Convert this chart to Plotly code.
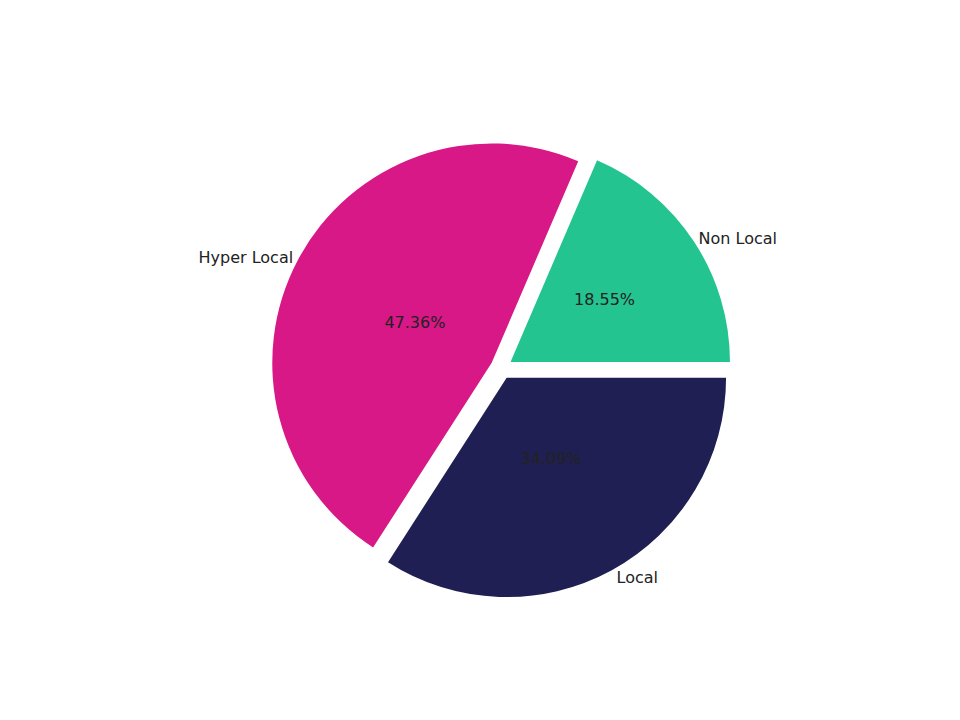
import plotly.graph_objects as go

labels = ["Local", "Hyper Local", "Non Local"]
values = [34.09, 47.36, 18.55]
colors = ["#1f1f53", "#d81887", "#24c491"]

pull = [0.05, 0.05, 0.05]
fig = go.Figure()
fig.add_trace(go.Pie(
    labels=labels, values=values, sort=False, direction="clockwise", rotation=90,
    marker=dict(colors=colors), pull=pull, textinfo="label", textposition="outside",
    textfont=dict(size=16, color="#222222", family="DejaVu Sans"), hoverinfo="skip",
    domain=dict(x=[0.16, 0.86], y=[0.18, 0.82]), showlegend=False))
fig.add_trace(go.Pie(
    labels=labels, values=values, sort=False, direction="clockwise", rotation=90,
    marker=dict(colors=["rgba(0,0,0,0)"] * 3), pull=pull, textinfo="percent", textposition="inside",
    texttemplate="%{percent:.2%}", insidetextorientation="horizontal",
    textfont=dict(size=16, color="#222222", family="DejaVu Sans"), hoverinfo="skip",
    domain=dict(x=[0.3, 0.72], y=[0.24, 0.76]), showlegend=False))
fig.update_layout(width=960, height=720, margin=dict(l=0, r=0, t=0, b=0),
                  paper_bgcolor="white", plot_bgcolor="white")
fig.write_html("out.html")
